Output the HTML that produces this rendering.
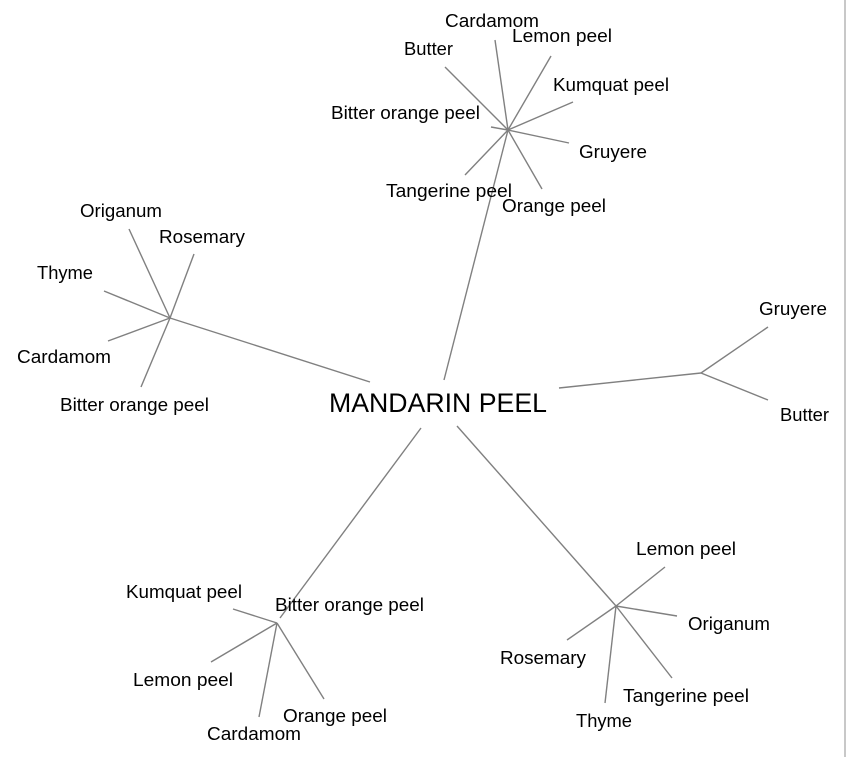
<!DOCTYPE html>
<html><head><meta charset="utf-8"><style>
html,body{margin:0;padding:0;background:#fff;width:847px;height:757px;overflow:hidden}
svg{display:block}
text{font-family:"Liberation Sans",Arial,sans-serif;font-size:18.5px;fill:#000}
line{stroke:#808080;stroke-width:1.4}
</style></head><body>
<svg width="847" height="757" viewBox="0 0 847 757" xmlns="http://www.w3.org/2000/svg">
<rect x="844" y="0" width="2" height="757" fill="#c8c8c8"/>
<line x1="370" y1="382" x2="170" y2="318"/>
<line x1="444" y1="380" x2="508" y2="130"/>
<line x1="559" y1="388" x2="701" y2="373"/>
<line x1="421" y1="428" x2="280" y2="618"/>
<line x1="457" y1="426" x2="616" y2="606"/>
<line x1="508" y1="130" x2="495" y2="40"/>
<line x1="508" y1="130" x2="551" y2="56"/>
<line x1="508" y1="130" x2="573" y2="102"/>
<line x1="508" y1="130" x2="569" y2="143"/>
<line x1="508" y1="130" x2="542" y2="189"/>
<line x1="508" y1="130" x2="465" y2="175"/>
<line x1="508" y1="130" x2="491" y2="127"/>
<line x1="508" y1="130" x2="445" y2="67"/>
<line x1="170" y1="318" x2="129" y2="229"/>
<line x1="170" y1="318" x2="194" y2="254"/>
<line x1="170" y1="318" x2="104" y2="291"/>
<line x1="170" y1="318" x2="108" y2="341"/>
<line x1="170" y1="318" x2="141" y2="387"/>
<line x1="701" y1="373" x2="768" y2="327"/>
<line x1="701" y1="373" x2="768" y2="400"/>
<line x1="277" y1="623" x2="233" y2="609"/>
<line x1="277" y1="623" x2="211" y2="662"/>
<line x1="277" y1="623" x2="259" y2="717"/>
<line x1="277" y1="623" x2="324" y2="699"/>
<line x1="616" y1="606" x2="665" y2="567"/>
<line x1="616" y1="606" x2="677" y2="616"/>
<line x1="616" y1="606" x2="672" y2="678"/>
<line x1="616" y1="606" x2="605" y2="703"/>
<line x1="616" y1="606" x2="567" y2="640"/>

<text x="329" y="412" style="font-size:27px" textLength="218" lengthAdjust="spacingAndGlyphs">MANDARIN PEEL</text>

<g lengthAdjust="spacingAndGlyphs">
<text x="445" y="27" textLength="94" lengthAdjust="spacingAndGlyphs">Cardamom</text>
<text x="512" y="42" textLength="100" lengthAdjust="spacingAndGlyphs">Lemon peel</text>
<text x="404" y="55" textLength="49" lengthAdjust="spacingAndGlyphs">Butter</text>
<text x="553" y="91" textLength="116" lengthAdjust="spacingAndGlyphs">Kumquat peel</text>
<text x="331" y="119" textLength="149" lengthAdjust="spacingAndGlyphs">Bitter orange peel</text>
<text x="579" y="158" textLength="68" lengthAdjust="spacingAndGlyphs">Gruyere</text>
<text x="386" y="197" textLength="126" lengthAdjust="spacingAndGlyphs">Tangerine peel</text>
<text x="502" y="212" textLength="104" lengthAdjust="spacingAndGlyphs">Orange peel</text>

<text x="80" y="217" textLength="82" lengthAdjust="spacingAndGlyphs">Origanum</text>
<text x="159" y="243" textLength="86" lengthAdjust="spacingAndGlyphs">Rosemary</text>
<text x="37" y="279" textLength="56" lengthAdjust="spacingAndGlyphs">Thyme</text>
<text x="17" y="363" textLength="94" lengthAdjust="spacingAndGlyphs">Cardamom</text>
<text x="60" y="411" textLength="149" lengthAdjust="spacingAndGlyphs">Bitter orange peel</text>

<text x="759" y="315" textLength="68" lengthAdjust="spacingAndGlyphs">Gruyere</text>
<text x="780" y="421" textLength="49" lengthAdjust="spacingAndGlyphs">Butter</text>

<text x="126" y="598" textLength="116" lengthAdjust="spacingAndGlyphs">Kumquat peel</text>
<text x="275" y="611" textLength="149" lengthAdjust="spacingAndGlyphs">Bitter orange peel</text>
<text x="133" y="686" textLength="100" lengthAdjust="spacingAndGlyphs">Lemon peel</text>
<text x="283" y="722" textLength="104" lengthAdjust="spacingAndGlyphs">Orange peel</text>
<text x="207" y="740" textLength="94" lengthAdjust="spacingAndGlyphs">Cardamom</text>

<text x="636" y="555" textLength="100" lengthAdjust="spacingAndGlyphs">Lemon peel</text>
<text x="688" y="630" textLength="82" lengthAdjust="spacingAndGlyphs">Origanum</text>
<text x="500" y="664" textLength="86" lengthAdjust="spacingAndGlyphs">Rosemary</text>
<text x="623" y="702" textLength="126" lengthAdjust="spacingAndGlyphs">Tangerine peel</text>
<text x="576" y="727" textLength="56" lengthAdjust="spacingAndGlyphs">Thyme</text>
</g>
</svg>
</body></html>
